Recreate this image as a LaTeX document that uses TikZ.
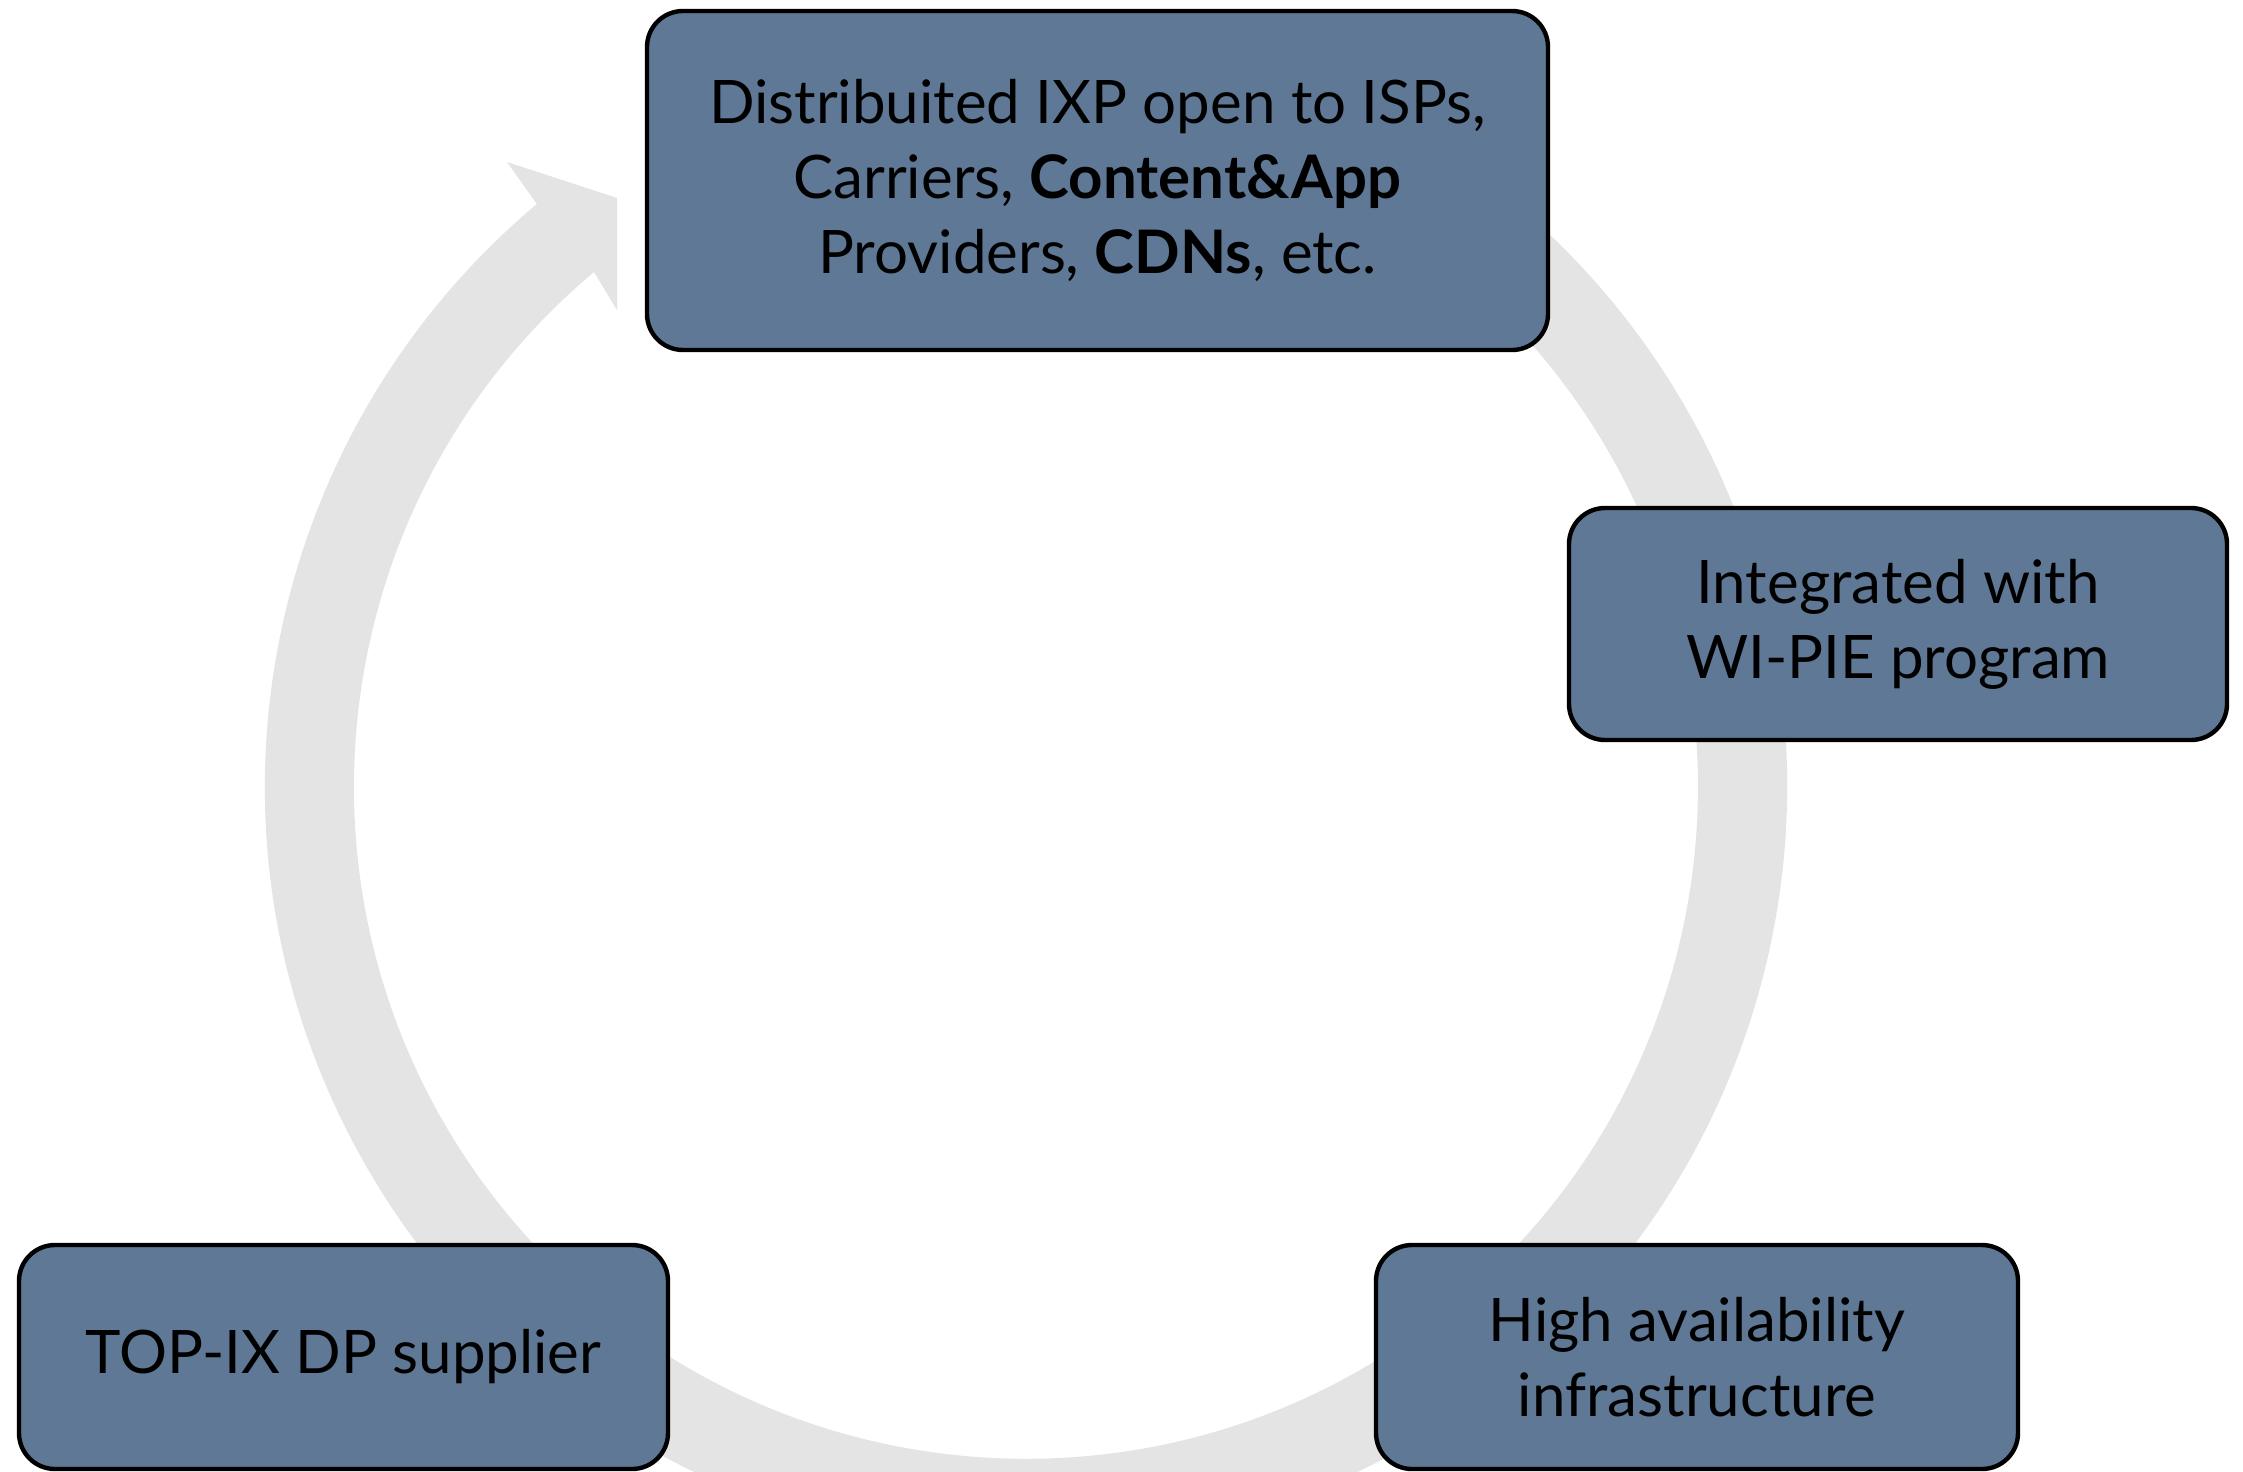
\documentclass[tikz,border=0pt]{standalone}
\usepackage{fontspec}
\setmainfont{Lato}
\definecolor{ringgray}{RGB}{228,228,228}
\definecolor{boxblue}{RGB}{94,120,149}
\begin{document}
\begin{tikzpicture}[x=0.5pt,y=-0.5pt,
  card/.style={draw=black, line width=2.2pt, fill=boxblue, rounded corners=18pt,
    align=center, inner sep=0pt, text=black,
    font=\fontsize{30}{37.5}\selectfont}]
\useasboundingbox (0,0) rectangle (2243,1472);
\fill[white] (0,0) rectangle (2243,1472);

% cycle ring: thick arc running clockwise, ending in a skewed arrowhead
\coordinate (c) at (1026,787);
\fill[ringgray]
  (c) ++(-75:761) arc[start angle=-75, end angle=230, radius=761]
  -- (507,162) -- (617,198) -- (617,310) -- (594,272)
  arc[start angle=230, end angle=-75, radius=672] -- cycle;

% stages
\node[card, minimum width=450.5pt, minimum height=169.5pt] (ixp) at (1097.5,180.5)
  {Distribuited IXP open to ISPs,\\
   Carriers, \textbf{Content\&App}\\
   Providers, \textbf{CDNs}, etc.};
\node[card, minimum width=329pt, minimum height=116pt] (wipie) at (1898,624)
  {Integrated with\\WI-PIE program};
\node[card, minimum width=321pt, minimum height=112pt] (ha) at (1697,1357)
  {High availability\\infrastructure};
\node[card, minimum width=324.5pt, minimum height=112pt] (dp) at (343.5,1357)
  {TOP-IX DP supplier};
\end{tikzpicture}
\end{document}
